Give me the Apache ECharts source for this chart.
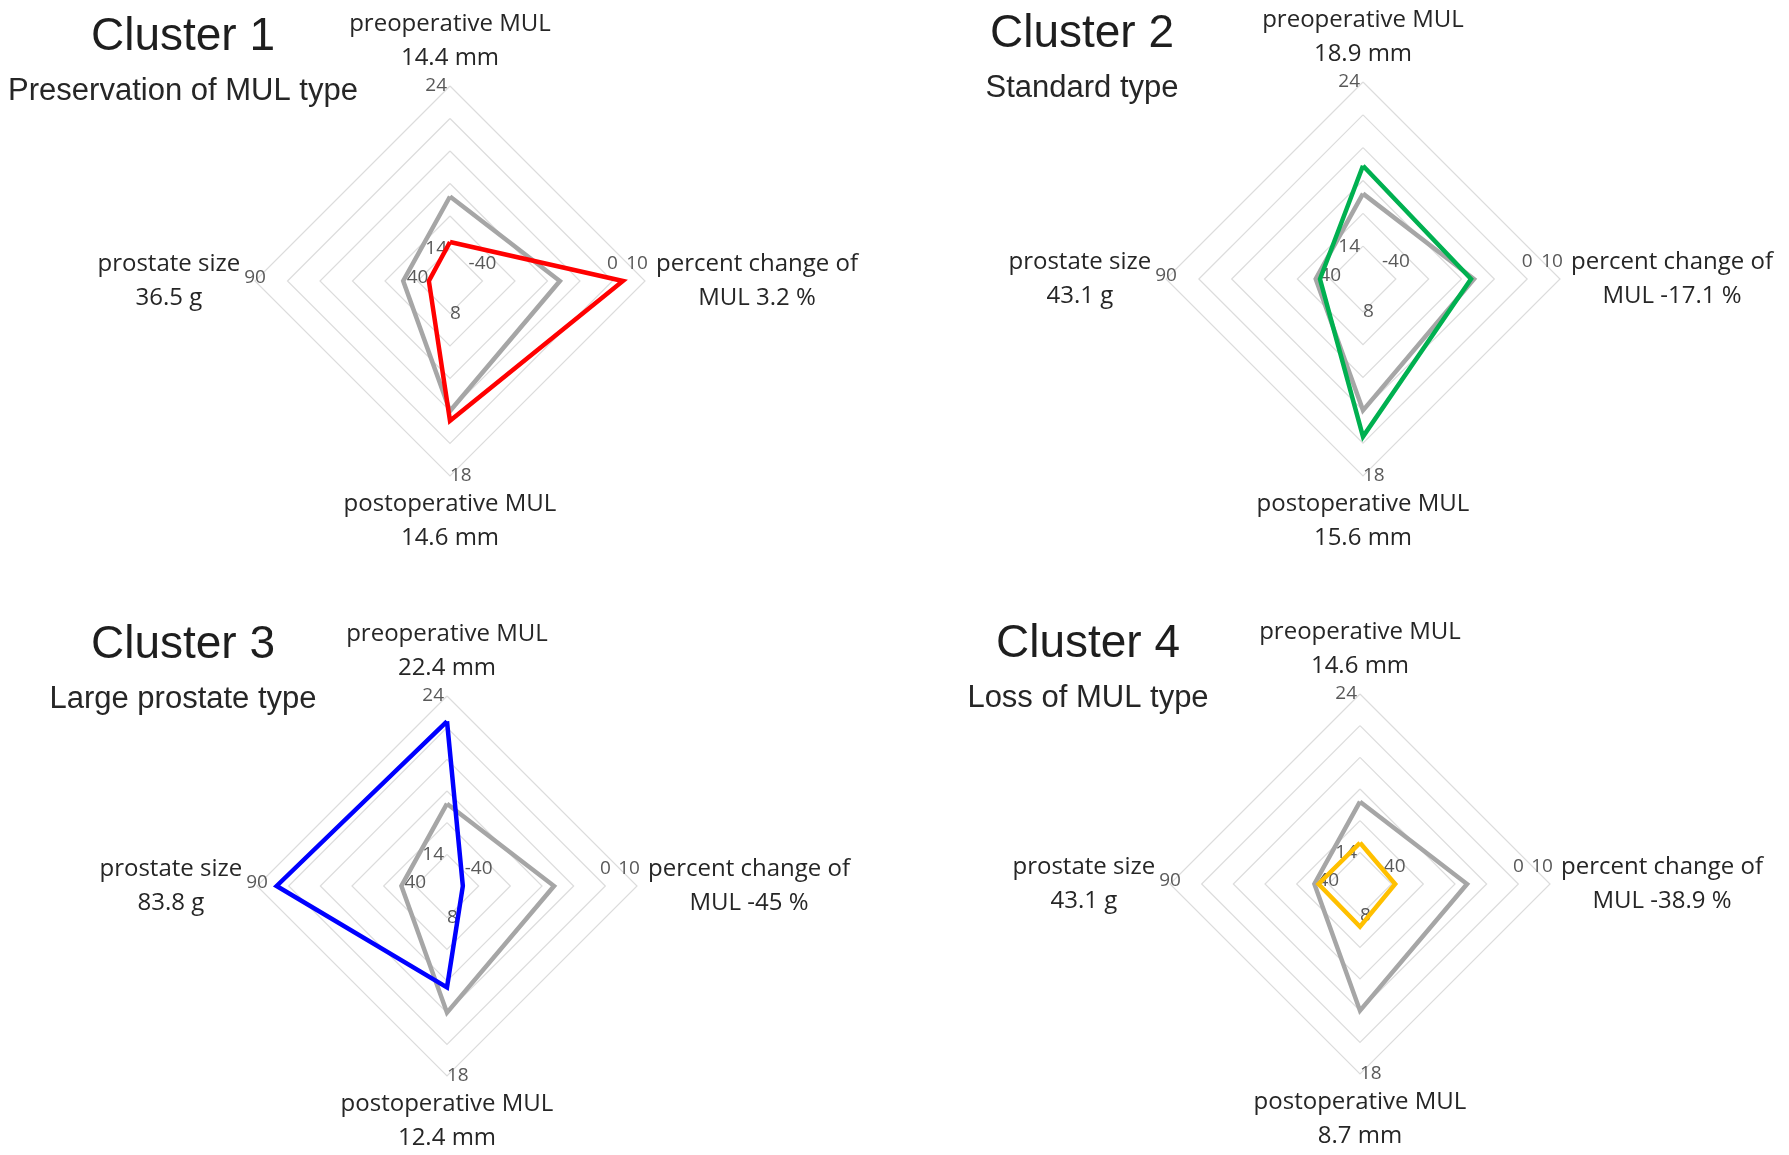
<!DOCTYPE html>
<html>
<head>
<meta charset="utf-8">
<script src="https://cdn.jsdelivr.net/npm/echarts@6/dist/echarts.min.js"></script>
<style>
html,body{margin:0;padding:0;background:#ffffff;}
#chart{width:1789px;height:1155px;}
</style>
</head>
<body>
<div id="chart"></div>
<script>
// ---------------- data ----------------
const clusterNames = ['Cluster 1', 'Cluster 2', 'Cluster 3', 'Cluster 4'];
const clusterTypes = ['Preservation of MUL type', 'Standard type', 'Large prostate type', 'Loss of MUL type'];
const preopMUL = [14.4, 18.9, 22.4, 14.6];        // mm
const pctChangeMUL = [3.2, -17.1, -45, -38.9];    // %
const postopMUL = [14.6, 15.6, 12.4, 8.7];        // mm
const prostateSize = [36.5, 43.1, 83.8, 43.1];    // g
// overall (gray) profile, order: preop, pct change, postop, prostate size
const overallProfile = [17.2, -16.2, 14.0, 44.4];
// axis scales, order: preop, pct change, postop, prostate size
const axisMin = [12, -50, 6, 30];
const axisMax = [24, 10, 18, 90];
const axisTickLabels = [[14, 24], [-40, 0, 10], [8, 18], [40, 90]];

// ---------------- styles / layout ----------------
const clusterColors = ['#ff0000', '#00b050', '#0000ff', '#ffc000'];
const overallColor = '#a6a6a6';
const panels = [
  { center: [450, 281], radius: 195, titleX: 183, titleTop: 12 },
  { center: [1363, 279], radius: 197, titleX: 1082, titleTop: 9 },
  { center: [447, 886], radius: 190, titleX: 183, titleTop: 620 },
  { center: [1360, 884], radius: 190, titleX: 1088, titleTop: 619 }
];
// display order on the radar (ECharts goes counter-clockwise from top):
// top = preop(0), left = size(3), bottom = postop(2), right = pct(1)
const displayOrder = [0, 3, 2, 1];
const labelMargins = [3, 7, 0, -13]; // per variable: preop, pct, postop, size

const nameFont = 'Open Sans';
const textColor = '#262626';
const tickFont = { fontSize: 19, lineHeight: 20, fontFamily: nameFont, color: '#595959' };

function nameText(varIdx, k) {
  let l1, l2;
  if (varIdx === 0) { l1 = 'preoperative MUL'; l2 = preopMUL[k] + ' mm'; }
  else if (varIdx === 1) { l1 = 'percent change of'; l2 = 'MUL ' + pctChangeMUL[k] + ' %'; }
  else if (varIdx === 2) { l1 = 'postoperative MUL'; l2 = postopMUL[k] + ' mm'; }
  else { l1 = 'prostate size'; l2 = prostateSize[k] + ' g'; }
  return '{c|' + l1 + '}\n{c|' + l2 + '}';
}

function clusterValues(k) {
  return [preopMUL[k], pctChangeMUL[k], postopMUL[k], prostateSize[k]];
}

function tickFormatter(vi) {
  return function (v) {
    const val = Math.round(v * 1000) / 1000;
    if (axisTickLabels[vi].indexOf(val) < 0) return '';
    if (vi === 1 && val === axisMax[1]) return '{far|' + val + '}';
    if (vi === 0 && val === axisMax[0]) return '{top|' + val + '}';
    return '{n|' + val + '}';
  };
}

const tickRich = {
  n: Object.assign({}, tickFont),
  far: Object.assign({ padding: [0, 0, 0, -16] }, tickFont),
  top: Object.assign({}, tickFont, { lineHeight: 8 })
};

const radars = [];
const series = [];
const titles = [];

panels.forEach(function (p, k) {
  radars.push({
    center: p.center,
    radius: p.radius,
    startAngle: 90,
    shape: 'polygon',
    splitNumber: 6,
    nameGap: 11,
    indicator: displayOrder.map(function (vi) {
      return {
        name: nameText(vi, k),
        min: axisMin[vi],
        max: axisMax[vi],
        axisLabel: Object.assign({
          show: true,
          hideOverlap: false,
          showMaxLabel: true,
          margin: labelMargins[vi],
          formatter: tickFormatter(vi),
          rich: tickRich
        }, tickFont)
      };
    }),
    axisName: {
      color: textColor,
      fontSize: 24,
      lineHeight: 34,
      fontFamily: nameFont,
      rich: {
        c: { align: 'center', fontSize: 24, lineHeight: 34, fontFamily: nameFont, color: textColor }
      }
    },
    axisLine: { show: false },
    axisTick: { show: false },
    splitArea: { show: false },
    splitLine: { show: true, lineStyle: { color: '#dcdcdc', width: 1.2 } }
  });

  series.push({
    type: 'radar',
    radarIndex: k,
    symbol: 'none',
    silent: true,
    z: 2,
    lineStyle: { color: overallColor, width: 4.5, join: 'miter' },
    data: [{ value: displayOrder.map(function (vi) { return overallProfile[vi]; }), name: 'overall' }]
  });
  series.push({
    type: 'radar',
    radarIndex: k,
    symbol: 'none',
    silent: true,
    z: 3,
    lineStyle: { color: clusterColors[k], width: 4.5, join: 'miter' },
    data: [{ value: displayOrder.map(function (vi) { return clusterValues(k)[vi]; }), name: clusterNames[k] }]
  });

  titles.push({
    text: clusterNames[k],
    subtext: clusterTypes[k],
    left: p.titleX,
    top: p.titleTop,
    textAlign: 'center',
    padding: 0,
    itemGap: 11,
    textStyle: { fontSize: 46, lineHeight: 50, fontFamily: 'Liberation Sans', fontWeight: 'normal', color: '#1e1e1e' },
    subtextStyle: { fontSize: 31, lineHeight: 36, fontFamily: 'Liberation Sans', color: '#262626' }
  });
});

const chart = echarts.init(document.getElementById('chart'), null, { renderer: 'canvas' });
chart.setOption({
  backgroundColor: '#ffffff',
  animation: false,
  title: titles,
  radar: radars,
  series: series
});
</script>
</body>
</html>
